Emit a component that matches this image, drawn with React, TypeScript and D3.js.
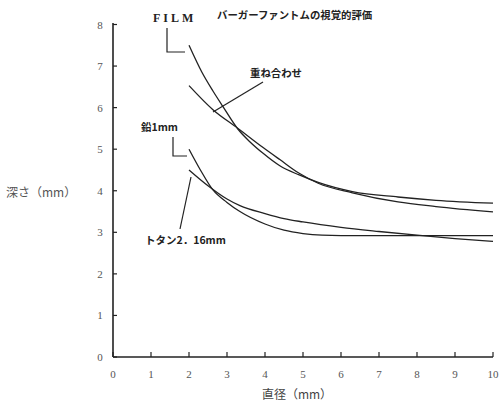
import React from "react";
import * as d3 from "d3";

const xTicks = [0, 1, 2, 3, 4, 5, 6, 7, 8, 9, 10];
const yTicks = [0, 1, 2, 3, 4, 5, 6, 7, 8];

const filmX = [2, 2.34, 2.63, 2.89, 3.29, 3.6, 3.95, 4.39, 4.9, 5.4, 6.3, 7.5, 8.5, 10];
const filmY = [7.5, 6.85, 6.4, 6.03, 5.48, 5.18, 4.9, 4.6, 4.38, 4.2, 3.98, 3.85, 3.77, 3.7];

const kasaneX = [2, 2.63, 3.29, 3.95, 4.39, 4.9, 5.4, 6.3, 7.5, 8.5, 10];
const kasaneY = [6.53, 5.95, 5.5, 5.04, 4.75, 4.42, 4.18, 3.95, 3.73, 3.62, 3.49];

const namariX = [2, 2.3, 2.63, 3, 3.34, 4, 4.5, 5, 5.5, 6, 7, 8, 9, 10];
const namariY = [5.0, 4.5, 4.02, 3.72, 3.5, 3.2, 3.05, 2.97, 2.93, 2.92, 2.92, 2.92, 2.92, 2.92];

const totanX = [2, 2.5, 3, 3.34, 4, 4.5, 5, 6, 7, 8, 9, 10];
const totanY = [4.5, 4.12, 3.8, 3.64, 3.45, 3.33, 3.25, 3.12, 3.02, 2.93, 2.85, 2.78];

const titleText = "バーガーファントムの視覚的評価";
const yLabel = "深さ（mm）";
const xLabel = "直径（mm）";

export default function App() {
  const x = d3.scaleLinear().domain([0, 10]).range([113, 493]);
  const y = d3.scaleLinear().domain([0, 8]).range([357, 24.5]);
  const line = d3
    .line<[number, number]>()
    .x((d) => x(d[0]))
    .y((d) => y(d[1]))
    .curve(d3.curveMonotoneX);
  const series = [
    [filmX, filmY],
    [kasaneX, kasaneY],
    [namariX, namariY],
    [totanX, totanY],
  ].map(([xs, ys]) => xs.map((v, i) => [v, ys[i]] as [number, number]));

  const jp = "'Noto Sans CJK JP', sans-serif";
  const num = "'Liberation Serif', serif";
  const ink = "#222";

  return (
    <svg
      width={503}
      height={407}
      style={{ position: "absolute", left: 0, top: 0, background: "#fff" }}
    >
      {/* title */}
      <text x={217} y={19} fontFamily={jp} fontSize={10.4} fontWeight={700} fill={ink}>
        {titleText}
      </text>
      {/* axes */}
      <line x1={x(0)} x2={x(0)} y1={23} y2={y(0)} stroke={ink} strokeWidth={1.6} />
      <line x1={x(0)} x2={x(10)} y1={y(0)} y2={y(0)} stroke={ink} strokeWidth={1.4} />
      {yTicks.map((t) => (
        <g key={"y" + t}>
          <line x1={x(0)} x2={x(0) + 4} y1={y(t)} y2={y(t)} stroke={ink} strokeWidth={1.2} />
          <text
            x={x(0) - 13}
            y={y(t) + 4}
            textAnchor="middle"
            fontFamily={num}
            fontSize={11}
            fill="#555"
          >
            {t}
          </text>
        </g>
      ))}
      {xTicks.map((t) => (
        <g key={"x" + t}>
          <line x1={x(t)} x2={x(t)} y1={y(0)} y2={y(0) - 5} stroke={ink} strokeWidth={1.2} />
          <text
            x={x(t)}
            y={378}
            textAnchor="middle"
            fontFamily={num}
            fontSize={11}
            fill="#555"
          >
            {t}
          </text>
        </g>
      ))}
      <text x={6} y={197} fontFamily={jp} fontSize={12} fill="#555">
        {yLabel}
      </text>
      <text x={297} y={399} textAnchor="middle" fontFamily={jp} fontSize={12} fill="#444">
        {xLabel}
      </text>

      {/* curves */}
      {series.map((s, i) => (
        <path key={i} d={line(s) || ""} fill="none" stroke={ink} strokeWidth={1.3} />
      ))}

      {/* annotations */}
      <text x={153} y={22} fontFamily={num} fontSize={12} fontWeight={700} letterSpacing={3} fill={ink}>
        FILM
      </text>
      <polyline points="167,28 167,52 185,52" fill="none" stroke={ink} strokeWidth={1.2} />

      <text x={250} y={77} fontFamily={jp} fontSize={10.4} fontWeight={700} fill={ink}>
        重ね合わせ
      </text>
      <line x1={263} y1={82} x2={213} y2={112} stroke={ink} strokeWidth={1.2} />

      <text x={141} y={131} fontFamily={jp} fontSize={10.5} fontWeight={700} fill={ink}>
        鉛1mm
      </text>
      <polyline points="173,137 173,156 187,156" fill="none" stroke={ink} strokeWidth={1.2} />

      <text x={145} y={244} fontFamily={jp} fontSize={10.5} fontWeight={700} fill={ink}>
        トタン2．16mm
      </text>
      <line x1={191} y1={177} x2={180} y2={229} stroke={ink} strokeWidth={1.2} />
    </svg>
  );
}
